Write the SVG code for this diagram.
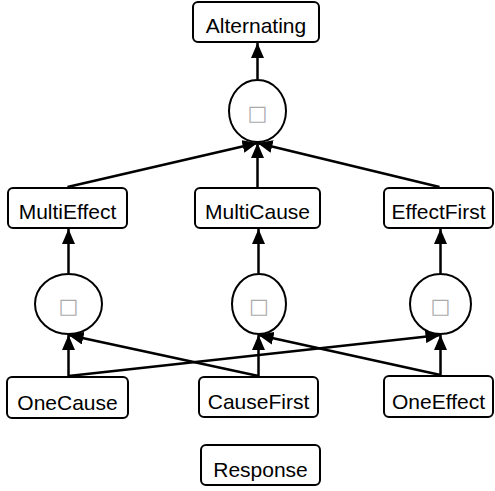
<svg xmlns="http://www.w3.org/2000/svg" width="495" height="491" viewBox="0 0 495 491">
<defs>
<style>
.box{fill:#fff;stroke:#000;stroke-width:2}
.op{fill:#fff;stroke:#000;stroke-width:2}
.lbl{font-family:"Liberation Sans",Arial,sans-serif;font-size:21px;fill:#000;text-anchor:middle}
.sym{font-family:"DejaVu Sans",sans-serif;font-size:21px;fill:#aaa;text-anchor:middle}
.edge{stroke:#000;stroke-width:2.5;fill:none;marker-end:url(#arr)}
</style>
<marker id="arr" markerUnits="userSpaceOnUse" markerWidth="15" markerHeight="13" refX="15" refY="6.5" orient="auto">
<path d="M0,0 L15,6.5 L0,13 z" fill="#000"/>
</marker>
</defs>
<rect width="495" height="491" fill="#fff"/>
<g id="connectors">
<line class="edge" x1="257.5" y1="79" x2="257.5" y2="43"/>
<line class="edge" x1="67.5" y1="187" x2="257.5" y2="143"/>
<line class="edge" x1="257.5" y1="187" x2="257.5" y2="143"/>
<line class="edge" x1="439.5" y1="187" x2="257.5" y2="143"/>
<line class="edge" x1="68.5" y1="273" x2="68.5" y2="229"/>
<line class="edge" x1="258.5" y1="273" x2="258.5" y2="229"/>
<line class="edge" x1="440.5" y1="273" x2="440.5" y2="229"/>
<line class="edge" x1="68.5" y1="376" x2="68.5" y2="335"/>
<line class="edge" x1="258.5" y1="376" x2="68.5" y2="335"/>
<line class="edge" x1="258.5" y1="376" x2="258.5" y2="335"/>
<line class="edge" x1="440.5" y1="375" x2="258.5" y2="335"/>
<line class="edge" x1="440.5" y1="375" x2="440.5" y2="335"/>
<line class="edge" x1="68.5" y1="376" x2="440.5" y2="335"/>
</g>
<g id="Alternating"><rect class="box" x="193" y="2" width="126" height="40" rx="5"/><text class="lbl" x="256" y="33">Alternating</text></g>
<g id="op_top"><ellipse class="op" cx="257.5" cy="111" rx="28.5" ry="31"/><text class="sym" x="257.5" y="120">□</text></g>
<g id="MultiEffect"><rect class="box" x="8" y="188" width="119" height="40" rx="5"/><text class="lbl" x="67.5" y="219">MultiEffect</text></g>
<g id="MultiCause"><rect class="box" x="195" y="188" width="125" height="40" rx="5"/><text class="lbl" x="257.5" y="219">MultiCause</text></g>
<g id="EffectFirst"><rect class="box" x="384" y="188" width="109" height="40" rx="5"/><text class="lbl" x="438.5" y="219">EffectFirst</text></g>
<g id="op_left"><ellipse class="op" cx="68.5" cy="304" rx="33.5" ry="30"/><text class="sym" x="68.5" y="313">□</text></g>
<g id="op_mid"><ellipse class="op" cx="259" cy="304" rx="27" ry="30"/><text class="sym" x="259" y="313">□</text></g>
<g id="op_right"><ellipse class="op" cx="440.5" cy="304" rx="30.5" ry="30"/><text class="sym" x="440.5" y="313">□</text></g>
<g id="OneCause"><rect class="box" x="7" y="377" width="121" height="41" rx="5"/><text class="lbl" x="67.5" y="410">OneCause</text></g>
<g id="CauseFirst"><rect class="box" x="199" y="377" width="119" height="40" rx="5"/><text class="lbl" x="258.5" y="409">CauseFirst</text></g>
<g id="OneEffect"><rect class="box" x="384" y="376" width="109" height="41" rx="5"/><text class="lbl" x="438.5" y="409">OneEffect</text></g>
<g id="Response"><rect class="box" x="201" y="445" width="119" height="40" rx="5"/><text class="lbl" x="260.5" y="477">Response</text></g>
</svg>
